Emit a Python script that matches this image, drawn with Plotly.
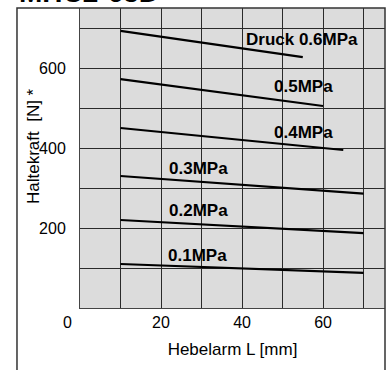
import plotly.graph_objects as go

# Data (Hebelarm L [mm] vs Haltekraft [N])
pressures = ["0.1MPa", "0.2MPa", "0.3MPa", "0.4MPa", "0.5MPa", "Druck 0.6MPa"]
lever_start = [10, 10, 10, 10, 10, 10]
lever_end = [70, 70, 70, 65, 60, 55]
force_start = [110, 220, 330, 450, 572, 693]
force_end = [88, 187, 286, 395, 505, 627]
label_x = [29, 29.2, 29.2, 55.1, 55.1, 54.9]
label_y = [131, 244, 348, 440, 553, 672]
x_ticks = [20, 40, 60]
x_minor = [10, 30, 50, 70]
y_ticks = [200, 400, 600]
y_minor = [100, 300, 500, 700]

GRAY = "#dcdcdc"
GRID = "#2a2a2a"
FONT = "Liberation Sans, Arial, sans-serif"

fig = go.Figure()
for i, p in enumerate(pressures):
    fig.add_trace(go.Scatter(
        x=[lever_start[i], lever_end[i]],
        y=[force_start[i], force_end[i]],
        mode="lines", line=dict(color="black", width=2.2),
        showlegend=False, hoverinfo="skip"))
    fig.add_annotation(x=label_x[i], y=label_y[i], text="<b>%s</b>" % p,
                       showarrow=False, xanchor="center", yanchor="middle",
                       font=dict(family=FONT, size=17, color="black"))

fig.update_layout(
    width=390, height=370,
    margin=dict(l=80, r=5, t=8, b=62),
    paper_bgcolor="white", plot_bgcolor=GRAY,
    font=dict(family=FONT, size=16, color="black"),
    showlegend=False,
)
fig.update_xaxes(
    range=[0, 75.3], tickvals=x_ticks, showgrid=True, gridcolor=GRID, gridwidth=1,
    minor=dict(tickvals=x_minor, showgrid=True, gridcolor=GRID, gridwidth=1),
    zeroline=False, showline=True, linecolor="#444", linewidth=1,
    ticks="",
    title=dict(text="Hebelarm L [mm]", font=dict(size=17), standoff=12),
    tickfont=dict(size=16),
)
fig.update_yaxes(
    range=[0, 750], tickvals=y_ticks, showgrid=True, gridcolor=GRID, gridwidth=1,
    minor=dict(tickvals=y_minor, showgrid=True, gridcolor=GRID, gridwidth=1),
    zeroline=False, showline=True, linecolor="#444", linewidth=1,
    ticks="outside", ticklen=10, tickcolor="rgba(0,0,0,0)",
    tickfont=dict(size=16),
)

# y axis title (placed as rotated text)
fig.add_annotation(xref="paper", yref="paper", x=-0.154, y=0.54,
                   xanchor="center", yanchor="middle",
                   text="Haltekraft \u00a0[N] *", textangle=-90, showarrow=False,
                   font=dict(family=FONT, size=17, color="black"))
# origin label
fig.add_annotation(xref="paper", yref="paper", x=-0.0426, y=-0.047, text="0",
                   xanchor="center", yanchor="middle",
                   showarrow=False, font=dict(family=FONT, size=16, color="black"))
# cut-off title at top
fig.add_annotation(xref="paper", yref="paper", x=-0.207, y=1.0, xanchor="left",
                   yanchor="bottom", yshift=-2, text="<b>MHC2-63D</b>", showarrow=False,
                   font=dict(family=FONT, size=28, color="black"))
# outer frame
fig.add_shape(type="rect", xref="paper", yref="paper", x0=-0.2066, x1=1.0,
              y0=-0.3, y1=1.0, line=dict(color="#333", width=1.5), layer="above")

fig.write_html("out.html")
